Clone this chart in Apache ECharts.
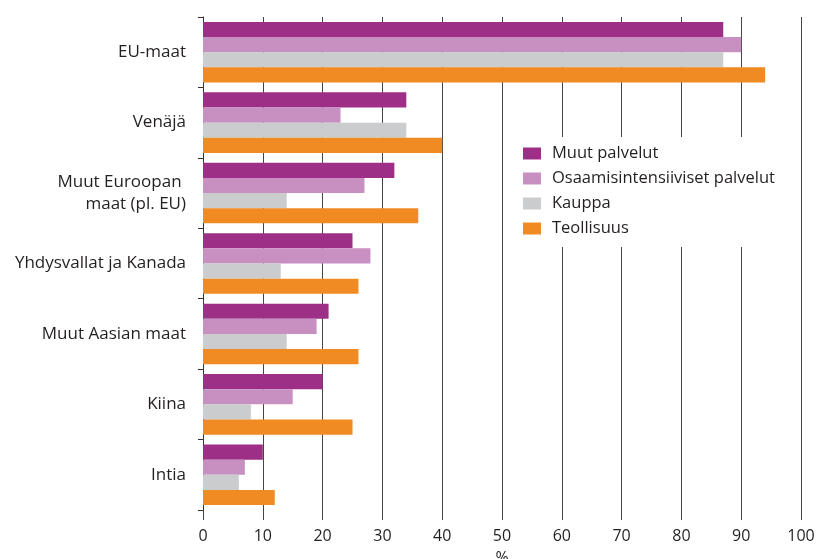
<!DOCTYPE html>
<html>
<head>
<meta charset="utf-8">
<script src="https://cdn.jsdelivr.net/npm/echarts@6/dist/echarts.min.js"></script>
<style>
  html, body { margin: 0; padding: 0; background: #fff; }
  #chart { width: 821px; height: 559px; }
</style>
</head>
<body>
<div id="chart"></div>
<script>
// alueet (ylhäältä alas)
var categories = ['EU-maat', 'Venäjä', 'Muut Euroopan \nmaat (pl. EU)', 'Yhdysvallat ja Kanada', 'Muut Aasian maat', 'Kiina', 'Intia'];
var xTicks = [0, 10, 20, 30, 40, 50, 60, 70, 80, 90, 100];

var muutPalvelut = [87, 34, 32, 25, 21, 20, 10];
var osaamisPalvelut = [90, 23, 27, 28, 19, 15, 7];
var kauppa = [87, 34, 14, 13, 14, 8, 6];
var teollisuus = [94, 40, 36, 26, 26, 25, 12];

var seriesNames = ['Muut palvelut', 'Osaamisintensiiviset palvelut', 'Kauppa', 'Teollisuus'];
var seriesData = [muutPalvelut, osaamisPalvelut, kauppa, teollisuus];
var colors = ['#9e2f87', '#c88fc1', '#cbcccd', '#f08a22'];

var font = '"Open Sans", "Noto Sans", sans-serif';
var chart = echarts.init(document.getElementById('chart'));

var option = {
  animation: false,
  backgroundColor: '#fff',
  textStyle: { fontFamily: font, color: '#231f20' },
  grid: { left: 203, right: 20, top: 17, bottom: 49, containLabel: false, outerBoundsMode: 'none' },
  legend: {
    orient: 'vertical',
    left: 513,
    top: 137,
    width: 285,
    itemWidth: 18,
    itemHeight: 12,
    itemGap: 8,
    padding: [8, 20, 10, 10],
    backgroundColor: '#fff',
    icon: 'rect',
    textStyle: { fontFamily: font, fontSize: 16.5, color: '#231f20', padding: [0, 0, 0, 6] },
    data: seriesNames
  },
  xAxis: {
    type: 'value',
    min: 0,
    max: 100,
    interval: 10,
    name: '%',
    nameLocation: 'middle',
    nameGap: 40,
    nameTextStyle: { fontFamily: font, fontSize: 16, color: '#231f20' },
    axisLine: { show: false },
    axisTick: { show: true, length: 10, lineStyle: { color: '#444', width: 1 } },
    axisLabel: {
      margin: 18,
      fontFamily: font,
      fontSize: 16,
      color: '#231f20',
      formatter: function (v) { return xTicks.indexOf(v) >= 0 ? String(v) : ''; }
    },
    splitLine: { show: true, lineStyle: { color: '#444', width: 1 } }
  },
  yAxis: {
    type: 'category',
    inverse: true,
    data: categories,
    axisLine: { show: true, lineStyle: { color: '#333', width: 1 } },
    axisTick: { show: true, length: 5, lineStyle: { color: '#333' } },
    axisLabel: {
      margin: 17,
      fontFamily: font,
      fontSize: 17,
      lineHeight: 22,
      color: '#231f20',
      align: 'right'
    },
    splitLine: { show: false }
  },
  series: seriesNames.map(function (name, i) {
    return {
      name: name,
      type: 'bar',
      data: seriesData[i],
      barGap: '0%',
      barCategoryGap: '14%',
      itemStyle: { color: colors[i] }
    };
  })
};

chart.setOption(option);
</script>
</body>
</html>
